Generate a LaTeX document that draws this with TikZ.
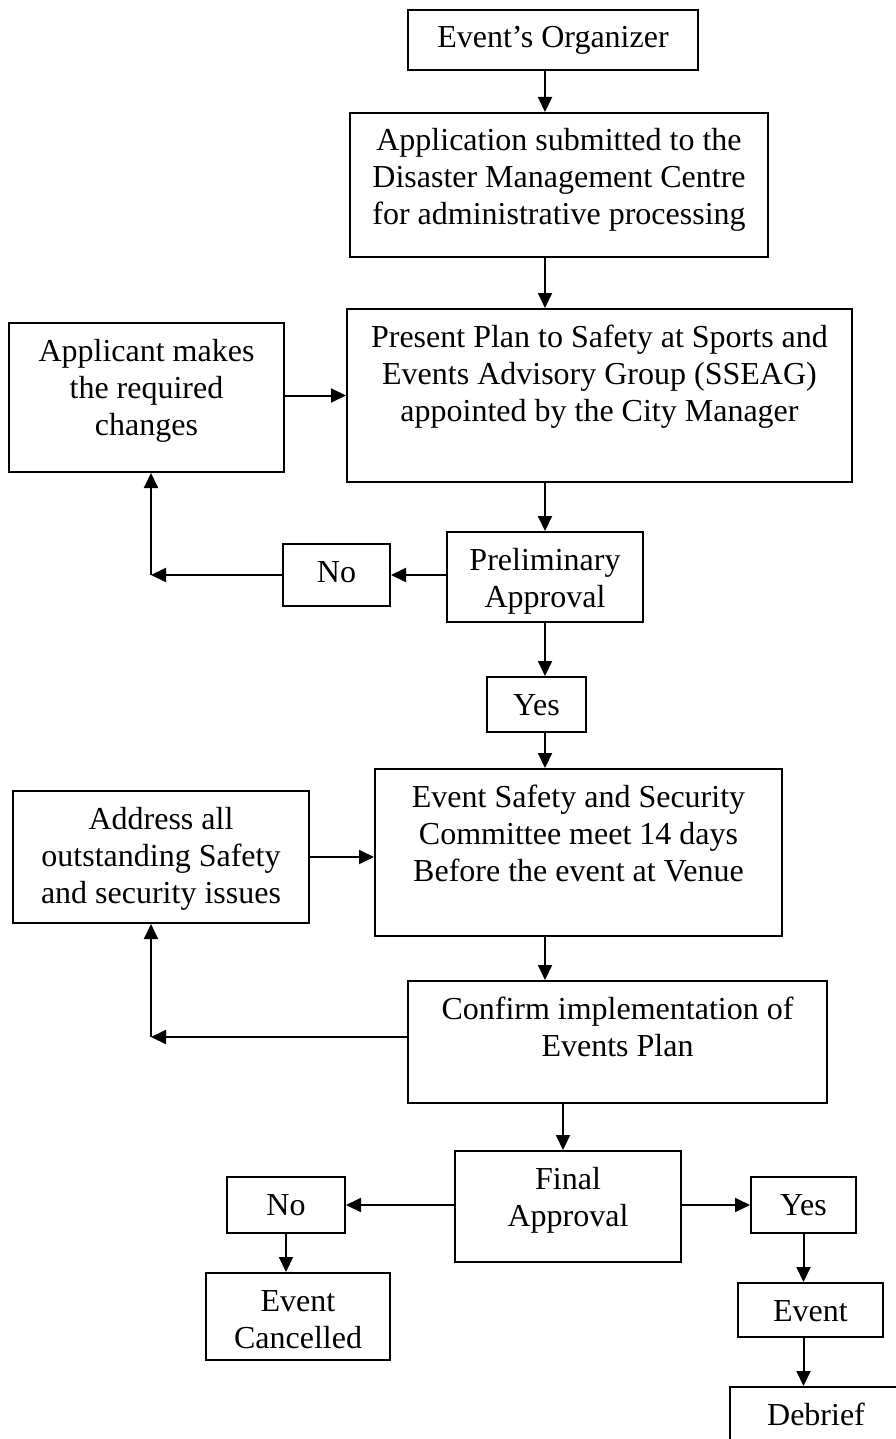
\documentclass[tikz,border=0pt]{standalone}
\usepackage{fontspec}
\setmainfont{Liberation Serif}
\usetikzlibrary{arrows.meta}

\begin{document}
\begin{tikzpicture}[x=1pt, y=-1pt,
  font=\fontsize{32}{37}\selectfont,
  flowbox/.style 2 args={draw, line width=2pt, inner sep=0pt,
    execute at begin node={\begin{minipage}[c][#2pt][t]{#1pt}\centering\rule{0pt}{38pt}},
    execute at end node={\end{minipage}}},
  arr/.style={line width=2pt, -{Triangle[length=15pt, width=14pt]}}]
  \useasboundingbox (0,0) rectangle (896,1439);
  \clip (0,0) rectangle (896,1439);

  % main column
  \node[flowbox={290}{60}]  (org)     at (553,40)      {Event’s Organizer};
  \node[flowbox={418}{144}] (app)     at (559,185)     {Application submitted to the\\ Disaster Management Centre\\ for administrative processing};
  \node[flowbox={505}{173}] (plan)    at (599.5,395.5) {Present Plan to Safety at Sports and\\ Events Advisory Group (SSEAG)\\ appointed by the City Manager};
  \node[flowbox={196}{90}]  (prelim)  at (545,577)     {Preliminary\\ Approval};
  \node[flowbox={99}{55}]   (yesA)    at (536.5,704.5) {Yes};
  \node[flowbox={407}{167}] (safety)  at (578.5,852.5) {Event Safety and Security\\ Committee meet 14 days\\ Before the event at Venue};
  \node[flowbox={419}{122}] (confirm) at (617.5,1042)  {Confirm implementation of\\ Events Plan};
  \node[flowbox={226}{111}] (final)   at (568,1206.5)  {Final\\ Approval};

  % side boxes
  \node[flowbox={275}{149}] (applicant) at (146.5,397.5) {Applicant makes\\ the required\\ changes};
  \node[flowbox={107}{62}]  (noA)       at (336.5,575)   {No};
  \node[flowbox={296}{132}] (address)   at (161,857)     {Address all\\ outstanding Safety\\ and security issues};
  \node[flowbox={118}{56}]  (noB)       at (286,1205)    {No};
  \node[flowbox={184}{87}]  (cancel)    at (298,1316.5)  {Event\\ Cancelled};
  \node[flowbox={105}{56}]  (yesB)      at (803.5,1205)  {Yes};
  \node[flowbox={145}{54}]  (event)     at (810.5,1310)  {Event};
  \node[flowbox={172}{73}]  (debrief)   at (816,1423.5)  {Debrief};

  \coordinate (spine)  at (545,0);
  \coordinate (spineB) at (563,0);
  \coordinate (loopA)  at (151,575);
  \coordinate (loopB)  at (151,1037);

  \draw[arr] (org.south -| spine) -- (app.north -| spine);
  \draw[arr] (app.south -| spine) -- (plan.north -| spine);
  \draw[arr] (plan.south -| spine) -- (prelim.north -| spine);
  \draw[arr] (prelim.south -| spine) -- (yesA.north -| spine);
  \draw[arr] (yesA.south -| spine) -- (safety.north -| spine);
  \draw[arr] (safety.south -| spine) -- (confirm.north -| spine);
  \draw[arr] (confirm.south -| spineB) -- (final.north -| spineB);

  \draw[arr] (applicant.east |- plan.west) -- (plan.west);
  \draw[arr] (prelim.west |- noA.east) -- (noA.east);
  \draw[arr] (noA.west) -- (loopA);
  \draw[arr] (loopA) -- (loopA |- applicant.south);

  \draw[arr] (address.east) -- (address.east -| safety.west);
  \draw[arr] (confirm.west |- loopB) -- (loopB);
  \draw[arr] (loopB) -- (loopB |- address.south);

  \draw[arr] (final.west |- noB.east) -- (noB.east);
  \draw[arr] (final.east |- yesB.west) -- (yesB.west);
  \draw[arr] (noB.south) -- (noB.south |- cancel.north);
  \draw[arr] (yesB.south) -- (yesB.south |- event.north);
  \draw[arr] (event.south -| yesB.south) -- (debrief.north -| yesB.south);
\end{tikzpicture}
\end{document}
